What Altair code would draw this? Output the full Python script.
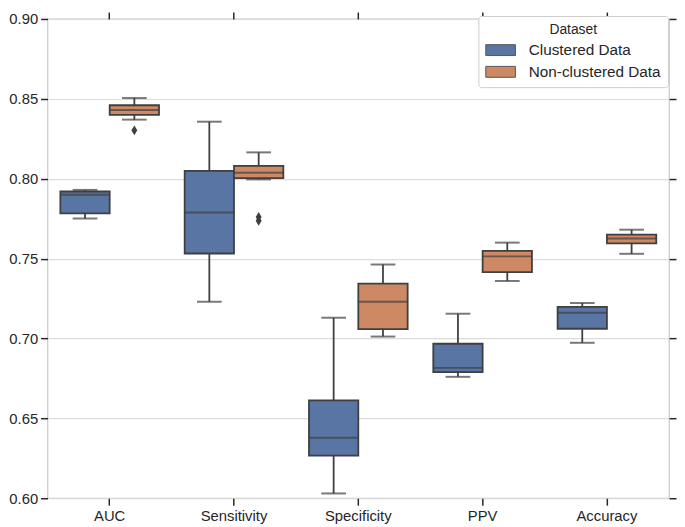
import altair as alt
import pandas as pd

categories = ["AUC", "Sensitivity", "Specificity", "PPV", "Accuracy"]
datasets = ["Clustered Data", "Non-clustered Data"]

# Box statistics (whisker low, Q1, median, Q3, whisker high)
clustered_lo = [0.7751, 0.7230, 0.6030, 0.6760, 0.6973]
clustered_q1 = [0.7783, 0.7532, 0.6267, 0.6789, 0.7061]
clustered_med = [0.7900, 0.7788, 0.6379, 0.6816, 0.7161]
clustered_q3 = [0.7920, 0.8049, 0.6612, 0.6967, 0.7198]
clustered_hi = [0.7930, 0.8357, 0.7130, 0.7155, 0.7222]

nonclust_lo = [0.8370, 0.7996, 0.7012, 0.7360, 0.7530]
nonclust_q1 = [0.8400, 0.8004, 0.7059, 0.7416, 0.7596]
nonclust_med = [0.8430, 0.8037, 0.7230, 0.7514, 0.7626]
nonclust_q3 = [0.8460, 0.8081, 0.7343, 0.7549, 0.7650]
nonclust_hi = [0.8505, 0.8165, 0.7463, 0.7600, 0.7681]

outlier_category = ["AUC", "Sensitivity", "Sensitivity"]
outlier_dataset = ["Non-clustered Data", "Non-clustered Data", "Non-clustered Data"]
outlier_value = [0.8303, 0.7761, 0.7737]

y_ticks = [0.60, 0.65, 0.70, 0.75, 0.80, 0.85, 0.90]

rows = []
for i, c in enumerate(categories):
    rows.append(dict(category=c, dataset=datasets[0], lo=clustered_lo[i], q1=clustered_q1[i],
                     med=clustered_med[i], q3=clustered_q3[i], hi=clustered_hi[i]))
    rows.append(dict(category=c, dataset=datasets[1], lo=nonclust_lo[i], q1=nonclust_q1[i],
                     med=nonclust_med[i], q3=nonclust_q3[i], hi=nonclust_hi[i]))
box_df = pd.DataFrame(rows)
out_df = pd.DataFrame(dict(category=outlier_category, dataset=outlier_dataset, value=outlier_value))

BLUE = "#5875A4"
ORANGE = "#CC8963"
LINE = "#3f3f3f"
TXT = "#262626"

x_scale = alt.Scale(domain=categories, paddingInner=0, paddingOuter=0)
off_scale = alt.Scale(domain=datasets, paddingInner=0, paddingOuter=0.26)
y_scale = alt.Scale(domain=[0.6, 0.9], nice=False, zero=False)

def xenc(axis):
    return alt.X("category:N", sort=categories, scale=x_scale, axis=axis, title=None)

xoff = alt.XOffset("dataset:N", sort=datasets, scale=off_scale)

base = alt.Chart(box_df)

axis_bottom = alt.Axis(orient="bottom", labelAngle=0, grid=False, domain=False,
                       ticks=True, tickSize=7, tickWidth=1.5, tickColor=TXT,
                       labelFontSize=15, labelColor=TXT, labelPadding=4)
axis_left = alt.Axis(orient="left", values=y_ticks, format=".2f", grid=True,
                     gridColor="#dcdcdc", gridWidth=1.2, domain=False,
                     tickSize=7, tickWidth=1.5, tickColor=TXT,
                     labelFontSize=15, labelColor=TXT, labelPadding=3)
axis_top = alt.Axis(orient="top", labels=False, grid=False, domain=False,
                    tickSize=7, tickWidth=1.5, tickColor=TXT)
axis_right = alt.Axis(orient="right", values=y_ticks, labels=False, grid=False,
                      domain=False, tickSize=7, tickWidth=1.5, tickColor=TXT)

whiskers = base.mark_rule(color=LINE, strokeWidth=1.8).encode(
    x=xenc(axis_top), xOffset=xoff,
    y=alt.Y("lo:Q", scale=y_scale, axis=axis_right, title=None),
    y2="hi:Q",
)

boxes = base.mark_bar(stroke=LINE, strokeWidth=1.8).encode(
    x=xenc(axis_bottom), xOffset=xoff,
    y=alt.Y("q1:Q", scale=y_scale, axis=axis_left, title=None),
    y2="q3:Q",
    fill=alt.Fill("dataset:N", scale=alt.Scale(domain=datasets, range=[BLUE, ORANGE]),
                  legend=alt.Legend(title="Dataset", orient="none",
                                    legendX=436, legendY=-3,
                                    fillColor="white", strokeColor="#cccccc",
                                    padding=7, cornerRadius=3,
                                    titleFontSize=14, titleFontWeight="normal",
                                    titleColor=TXT, titleAnchor="middle",
                                    titlePadding=3,
                                    labelFontSize=15.5, labelColor=TXT,
                                    symbolType="M-1.5,-0.55H1.5V0.55H-1.5Z",
                                    symbolSize=400, symbolStrokeColor="#555555",
                                    symbolStrokeWidth=1, symbolOffset=5,
                                    labelOffset=18, rowPadding=3)),
)

medians = base.mark_tick(color=LINE, thickness=2, size=50).encode(
    x=xenc(None), xOffset=xoff,
    y=alt.Y("med:Q", scale=y_scale, axis=None),
)

caps_lo = base.mark_tick(color=LINE, thickness=2, size=25).encode(
    x=xenc(None), xOffset=xoff,
    y=alt.Y("lo:Q", scale=y_scale, axis=None),
)
caps_hi = base.mark_tick(color=LINE, thickness=2, size=25).encode(
    x=xenc(None), xOffset=xoff,
    y=alt.Y("hi:Q", scale=y_scale, axis=None),
)

outliers = alt.Chart(out_df).mark_point(
    shape="M0,-1L0.6,0L0,1L-0.6,0Z", filled=True, color=LINE, opacity=1, size=100
).encode(
    x=xenc(None), xOffset=xoff,
    y=alt.Y("value:Q", scale=y_scale, axis=None),
)

chart = alt.layer(whiskers, boxes, medians, caps_lo, caps_hi, outliers).resolve_axis(
    x="independent", y="independent"
).properties(
    width=629, height=485, padding=0
).configure(
    font="Liberation Sans"
).configure_view(
    stroke="#cccccc", strokeWidth=1.3
)

chart.save("out.html", embed_options={"renderer": "svg", "actions": False})
